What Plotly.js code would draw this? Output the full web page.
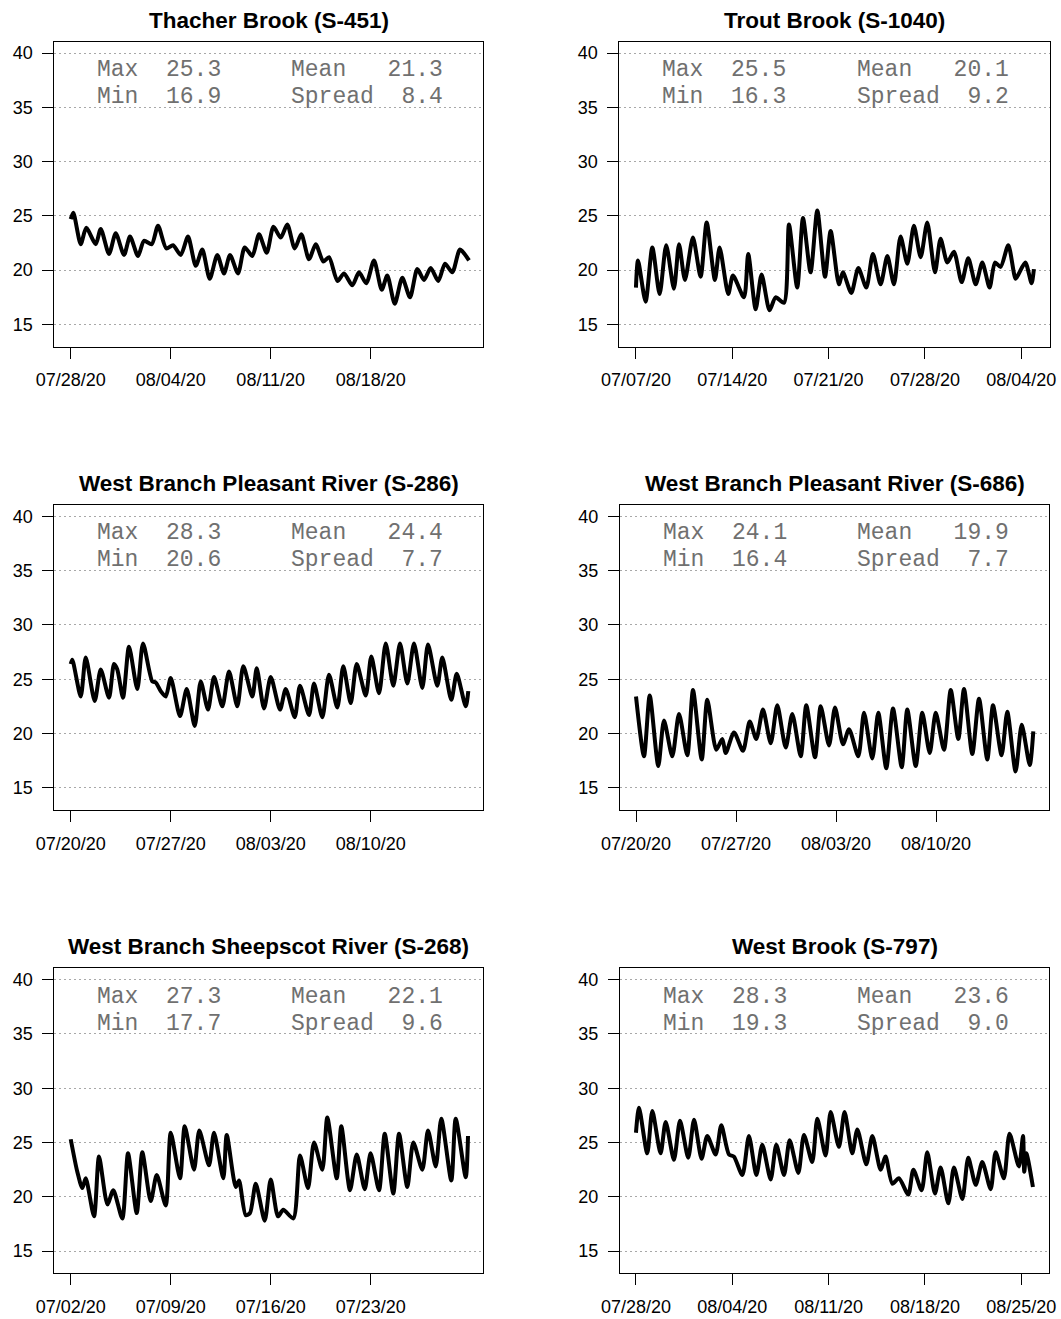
<!DOCTYPE html>
<html>
<head>
<meta charset="utf-8">
<script src="https://cdn.plot.ly/plotly-3.0.1.min.js"></script>
<style>html,body{margin:0;padding:0;background:#fff;}#chart{width:1061px;height:1319px;}</style>
</head>
<body>
<div id="chart"></div>
<script>
// ---------- data (days = offset from start date) ----------
const titles = ["Thacher Brook (S-451)", "Trout Brook (S-1040)",
  "West Branch Pleasant River (S-286)", "West Branch Pleasant River (S-686)",
  "West Branch Sheepscot River (S-268)", "West Brook (S-797)"];
const startDates = ["2020-07-28", "2020-07-07", "2020-07-20", "2020-07-20", "2020-07-02", "2020-07-28"];

const statMax = ["25.3", "25.5", "28.3", "24.1", "27.3", "28.3"];
const statMin = ["16.9", "16.3", "20.6", "16.4", "17.7", "19.3"];
const statMean = ["21.3", "20.1", "24.4", "19.9", "22.1", "23.6"];
const statSpread = ["8.4", "9.2", "7.7", "7.7", "9.6", "9.0"];

const tickDates1 = ["2020-07-28", "2020-08-04", "2020-08-11", "2020-08-18"];
const tickDates2 = ["2020-07-07", "2020-07-14", "2020-07-21", "2020-07-28", "2020-08-04"];
const tickDates3 = ["2020-07-20", "2020-07-27", "2020-08-03", "2020-08-10"];
const tickDates4 = ["2020-07-20", "2020-07-27", "2020-08-03", "2020-08-10"];
const tickDates5 = ["2020-07-02", "2020-07-09", "2020-07-16", "2020-07-23"];
const tickDates6 = ["2020-07-28", "2020-08-04", "2020-08-11", "2020-08-18", "2020-08-25"];
const yTicks = [15, 20, 25, 30, 35, 40];

const days1 = [0.00,0.18,0.70,1.09,1.75,2.10,2.68,3.15,3.73,4.15,4.71,5.13,5.67,6.11,6.69,7.16,7.70,8.21,8.75,9.21,9.73,10.26,10.73,11.15,11.71,12.18,12.71,13.18,13.72,14.19,14.70,15.16,15.68,16.14,16.68,17.15,17.68,18.08,18.67,19.13,19.71,20.18,20.69,21.23,21.77,22.16,22.68,23.21,23.75,24.26,24.73,25.20,25.73,26.20,26.71,27.25,27.88];
const temps1 = [24.7,25.3,22.4,23.9,22.4,23.8,21.5,23.4,21.4,23.1,21.3,22.7,22.4,24.1,22.0,22.3,21.4,23.1,20.4,21.9,19.2,21.4,19.7,21.4,19.7,22.1,21.3,23.3,21.6,24.0,23.0,24.2,22.0,23.3,21.0,22.4,20.8,21.2,19.0,19.7,18.6,19.8,18.8,20.9,18.2,19.5,16.9,19.3,17.5,20.1,19.1,20.2,19.0,20.6,19.8,21.9,20.9];

const days2 = [0.00,0.15,0.70,1.19,1.72,2.20,2.76,3.13,3.56,4.14,4.70,5.14,5.74,6.08,6.71,7.05,7.85,8.16,8.70,9.13,9.71,10.15,10.76,11.12,11.72,12.14,12.69,13.18,13.74,14.15,14.75,15.04,15.65,16.16,16.74,17.22,17.78,18.27,18.75,19.23,19.72,20.20,20.69,21.17,21.73,22.14,22.63,23.11,23.67,24.15,24.69,25.17,25.70,26.09,26.50,27.06,27.59,27.83,28.30,28.75,28.92];
const temps2 = [18.4,20.9,17.1,22.1,17.8,22.3,18.3,22.4,19.1,23.0,19.4,24.4,19.1,22.1,17.8,19.5,17.5,21.5,16.4,19.6,16.3,17.5,17.0,24.2,18.4,24.8,19.8,25.5,19.4,23.6,18.7,19.8,17.9,20.2,18.4,21.5,18.7,21.3,18.7,23.1,20.6,24.1,21.2,24.4,19.8,22.9,20.7,21.7,18.9,21.1,18.7,20.7,18.4,20.7,20.3,22.3,19.2,19.7,20.7,18.8,20.1];

const days3 = [0.00,0.11,0.70,1.05,1.68,2.10,2.68,3.03,3.26,3.66,4.08,4.66,5.06,5.71,5.95,6.30,6.65,7.00,7.65,8.12,8.68,9.10,9.61,10.03,10.61,11.08,11.66,12.08,12.71,13.02,13.53,14.00,14.65,15.05,15.68,16.05,16.68,17.03,17.61,18.08,18.66,19.08,19.60,20.02,20.65,21.04,21.58,22.05,22.58,23.05,23.56,24.03,24.61,25.01,25.66,26.01,26.64,27.02,27.65,27.83];
const temps3 = [26.4,26.8,23.4,27.0,23.0,25.9,23.3,26.4,25.9,23.3,28.0,24.1,28.3,24.8,24.7,23.9,23.4,25.1,21.6,24.1,20.7,24.8,22.2,25.2,22.5,25.7,22.5,26.2,23.4,26.0,22.3,25.2,22.2,24.1,21.5,24.4,21.7,24.6,21.5,25.4,22.4,26.2,22.8,26.4,23.5,27.1,23.7,28.3,24.4,28.3,24.6,28.3,24.2,28.2,24.4,27.0,23.1,25.5,22.5,23.9];

const days4 = [0.00,0.56,0.96,1.56,1.96,2.54,3.01,3.59,3.99,4.60,4.99,5.62,6.04,6.28,6.86,7.49,7.96,8.42,8.89,9.43,9.89,10.48,10.94,11.53,11.92,12.53,12.93,13.51,13.93,14.49,14.91,15.56,15.96,16.54,16.96,17.52,17.99,18.60,18.99,19.58,20.04,20.56,20.98,21.56,22.03,22.56,22.96,23.54,24.01,24.59,24.99,25.59,25.99,26.57,27.00,27.56,27.81];
const temps4 = [23.4,17.9,23.5,17.0,21.2,17.9,21.8,18.0,24.0,17.6,23.1,18.5,19.5,18.2,20.1,18.4,21.1,19.5,22.2,19.1,22.6,18.7,21.8,17.9,22.6,17.8,22.5,18.9,22.4,19.0,20.4,17.9,21.9,17.7,21.9,16.8,22.3,16.9,22.2,17.0,21.9,18.2,21.9,18.5,24.0,19.5,24.1,18.1,23.2,17.6,22.6,18.0,22.0,16.5,20.8,17.1,20.2];

const days5 = [0.00,0.46,0.81,1.05,1.63,1.98,2.57,2.98,3.61,4.01,4.62,5.01,5.60,6.02,6.65,7.00,7.65,7.98,8.63,9.00,9.68,10.03,10.68,10.92,11.55,11.78,12.25,12.55,12.95,13.58,14.00,14.51,14.88,15.58,16.05,16.61,17.03,17.61,17.96,18.62,18.94,19.55,20.02,20.58,20.99,21.58,21.98,22.58,22.98,23.56,23.98,24.61,25.01,25.55,25.94,26.64,26.95,27.65,27.81];
const temps5 = [25.3,22.3,20.8,21.7,18.2,23.7,19.3,20.6,18.0,24.0,18.5,24.1,19.6,22.0,19.2,25.9,21.7,26.5,22.5,26.1,22.9,25.9,21.7,25.7,20.9,21.5,18.3,18.5,21.2,17.8,21.6,18.2,18.8,18.0,23.8,20.8,25.0,22.5,27.3,21.7,26.5,20.6,23.9,20.7,24.0,20.6,25.8,20.3,25.8,20.9,25.0,22.5,26.1,22.8,27.2,21.5,27.2,21.8,25.6];

const days6 = [0.00,0.22,0.82,1.19,1.79,2.16,2.76,3.20,3.80,4.22,4.77,5.18,5.79,6.20,6.76,7.12,7.73,8.21,8.75,9.18,9.79,10.20,10.76,11.17,11.80,12.21,12.81,13.18,13.78,14.15,14.75,15.16,15.72,16.09,16.74,17.18,17.78,18.14,18.63,19.11,19.79,20.16,20.76,21.17,21.73,22.14,22.70,23.11,23.72,24.15,24.69,25.17,25.78,26.14,26.74,27.15,27.83,28.13,28.22,28.37,28.85];
const temps6 = [25.9,28.2,24.0,27.9,24.0,26.9,23.4,27.0,23.6,27.1,23.5,25.6,23.9,26.6,23.9,23.7,22.0,25.6,22.0,24.8,21.6,24.8,22.0,25.2,22.2,25.7,23.2,27.2,23.8,27.8,24.6,27.8,24.0,26.2,23.0,25.6,22.5,23.7,21.2,21.7,20.2,22.5,20.6,24.1,20.3,22.7,19.4,22.7,19.8,23.6,21.1,23.2,20.7,24.1,21.7,25.8,22.8,25.6,22.3,24.0,20.9];

// ---------- layout geometry (pixels) ----------
const W = 1061, H = 1319;
const boxes = [
  {l: 54.3, r: 483.3, t: 41.7, b: 346.7, xr: [-1.15, 28.88]},
  {l: 619.3, r: 1050, t: 41.7, b: 346.7, xr: [-1.21, 30.09]},
  {l: 54.3, r: 483.3, t: 505, b: 810, xr: [-1.15, 28.88]},
  {l: 620, r: 1049.3, t: 505, b: 810, xr: [-1.12, 28.93]},
  {l: 54.3, r: 483.3, t: 968.3, b: 1273.3, xr: [-1.15, 28.88]},
  {l: 620, r: 1049.3, t: 968.3, b: 1273.3, xr: [-1.16, 30.04]}
];
const allDays = [days1, days2, days3, days4, days5, days6];
const allTemps = [temps1, temps2, temps3, temps4, temps5, temps6];
const allTicks = [tickDates1, tickDates2, tickDates3, tickDates4, tickDates5, tickDates6];

const DAY = 86400000;
function dayToDate(start, d) {
  const t = Date.parse(start + "T00:00:00Z") + d * DAY;
  return new Date(t).toISOString().replace("T", " ").slice(0, 19);
}
const NB = "\u00a0";
function pad(a, n, b) { return a + NB.repeat(n) + b; }

const data = [];
const layout = {
  width: W, height: H,
  margin: {l: 0, r: 0, t: 0, b: 0},
  paper_bgcolor: "#fff", plot_bgcolor: "#fff",
  showlegend: false,
  annotations: []
};
const tickFont = {family: "Liberation Sans, Arial, sans-serif", size: 18, color: "#000"};
const statFont = {family: "Liberation Mono, Courier New, monospace", size: 23, color: "#707070"};

for (let i = 0; i < 6; i++) {
  const n = i + 1;
  const bx = boxes[i];
  const xs = allDays[i].map(d => dayToDate(startDates[i], d));
  data.push({
    type: "scatter", mode: "lines",
    x: xs, y: allTemps[i],
    xaxis: "x" + n, yaxis: "y" + n,
    line: {color: "#000", width: 4, shape: "spline", smoothing: 0.7},
    hoverinfo: "skip"
  });
  layout["xaxis" + n] = {
    type: "date",
    domain: [bx.l / W, bx.r / W],
    anchor: "y" + n,
    range: [dayToDate(startDates[i], bx.xr[0]), dayToDate(startDates[i], bx.xr[1])],
    tickmode: "array", tickvals: allTicks[i], tickformat: "%m/%d/%y",
    ticks: "outside", ticklen: 11, tickwidth: 1, tickcolor: "#000",
    showline: true, linecolor: "#000", linewidth: 1, mirror: true,
    showgrid: false, zeroline: false,
    tickfont: tickFont, ticklabelstandoff: 6
  };
  layout["yaxis" + n] = {
    domain: [1 - bx.b / H, 1 - bx.t / H],
    anchor: "x" + n,
    range: [12.95, 41.05],
    tickmode: "array", tickvals: yTicks,
    ticks: "outside", ticklen: 11, tickwidth: 1, tickcolor: "#000",
    showline: true, linecolor: "#000", linewidth: 1, mirror: true,
    showgrid: true, gridcolor: "#a8a8a8", gridwidth: 1, griddash: "2px,3px",
    zeroline: false,
    tickfont: tickFont, ticklabelstandoff: 6
  };
  const hpx = bx.b - bx.t;
  layout.annotations.push({
    xref: "x" + n + " domain", yref: "y" + n + " domain",
    x: 0.5, y: 1 + 21.5 / hpx, xanchor: "center", yanchor: "middle",
    text: titles[i], showarrow: false,
    font: {family: "Liberation Sans, Arial, sans-serif", size: 22.5, color: "#000", weight: 700}
  });
  const rows = [
    [0.095, 38.45, pad("Max", 2, statMax[i])],
    [0.095, 35.95, pad("Min", 2, statMin[i])],
    [0.548, 38.45, pad("Mean", 7 - statMean[i].length, statMean[i])],
    [0.548, 35.95, pad("Spread", 5 - statSpread[i].length, statSpread[i])]
  ];
  rows.forEach(r => {
    layout.annotations.push({
      xref: "x" + n + " domain", yref: "y" + n,
      x: r[0], y: r[1], xanchor: "left", yanchor: "middle",
      text: r[2], showarrow: false, font: statFont
    });
  });
}

Plotly.newPlot("chart", data, layout, {staticPlot: true, displayModeBar: false});
</script>
</body>
</html>
